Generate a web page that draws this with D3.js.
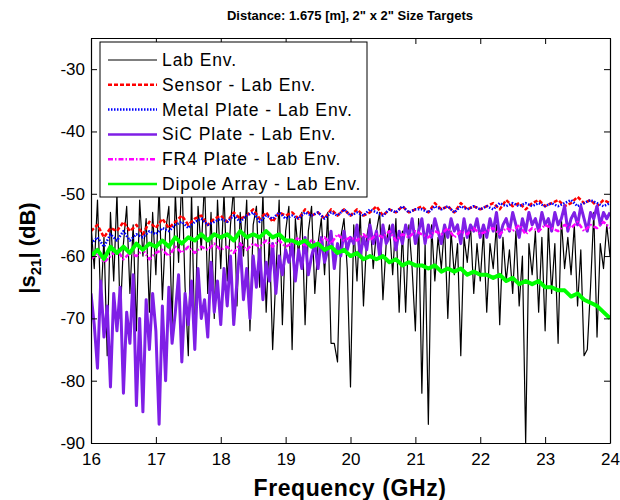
<!DOCTYPE html>
<html>
<head>
<meta charset="utf-8">
<script src="https://cdn.jsdelivr.net/npm/d3@7"></script>
<style>
body{margin:0;background:#fff;}
text{font-family:"Liberation Sans",Arial,sans-serif;}
</style>
</head>
<body>
<svg id="chart" width="620" height="500"></svg>
<script>

// frequency grids (GHz)
var freqFine = d3.range(161).map(function(i){ return 16 + i*0.05; });
var freqCoarse = d3.range(81).map(function(i){ return 16 + i*0.1; });

var xTicks = [16,17,18,19,20,21,22,23,24];
var yTicks = [-90,-80,-70,-60,-50,-40,-30];

// |s21| in dB
var labEnv = [
	-55,-62,-51,-68,-57,-76,-53,-64,-50,-70,-58,-52,-66,-55,-72,-51,-60,-54,-69,-53,-63,
	-49,-67,-56,-52,-71,-50,-61,-47,-65,-76,-50,-74,-52,-59,-48,-66,-53,-70,-51,-62,
	-50,-64,-55,-49,-68,-53,-60,-51,-72,-55,-52,-65,-50,-69,-57,-75,-63,-51,-71,-56,
	-52,-75,-54,-60,-53,-71,-56,-52,-66,-58,-54,-63,-53,-74,-74,-77,-57,-54,-62,-81,
	-55,-64,-53,-68,-57,-54,-62,-56,-53,-67,-58,-55,-63,-54,-69,-56,-69,-55,-62,-72,
	-54,-82,-58,-87,-55,-64,-57,-62,-55,-70,-56,-63,-58,-76,-57,-61,-55,-66,-58,-64,
	-56,-69,-58,-62,-55,-71,-57,-64,-59,-66,-56,-68,-60,-90,-58,-63,-56,-69,-57,-72,
	-55,-66,-58,-74,-54,-62,-57,-63,-55,-68,-59,-76,-75,-65,-53,-73,-58,-62,-55,-60
];
var sicPlate = [
	-66,-71,-78,-64,-73,-68,-81,-66,-72,-65,-82,-69,-74,-63,-84,-70,-85,-67,-75,-66,-72,
	-87,-68,-80,-65,-74,-69,-63,-77,-66,-71,-64,-75,-62,-70,-67,-73,-61,-69,-64,-71,
	-62,-68,-60,-71,-64,-58,-67,-62,-70,-60,-65,-59,-67,-61,-64,-58,-66,-60,-63,-59,
	-61,-58,-64,-59,-62,-57,-63,-60,-58,-62,-57,-61,-59,-56,-62,-58,-60,-56,-59,-57,
	-58,-55,-60,-57,-59,-55,-58,-56,-60,-55,-58,-57,-55,-59,-56,-58,-55,-57,-54,-58,
	-56,-54,-58,-55,-57,-54,-56,-58,-55,-57,-54,-56,-55,-58,-54,-57,-55,-56,-54,-57,
	-55,-57,-54,-56,-53,-57,-55,-54,-56,-53,-55,-57,-54,-56,-53,-55,-54,-56,-53,-55,
	-54,-56,-53,-55,-54,-52,-56,-54,-53,-55,-52,-54,-56,-53,-54,-52,-55,-53,-54,-53
];
var sensor = [
	-56,-55,-57,-55.5,-56,-54.5,-56,-55,-56.5,-54.5,-55.5,
	-54,-55.5,-54.5,-53.5,-55,-54,-53.5,-55,-54,-53.5,
	-54.5,-53,-54,-53.5,-52.5,-54,-53,-54.5,-53,-53.5,
	-53,-54,-52.5,-53.5,-53,-54,-52.5,-53.5,-52.5,-53.5,
	-52.5,-53.5,-53,-52,-53.5,-52.5,-53,-52,-53,-52.5,
	-52,-53,-51.5,-52.5,-52,-53,-51.5,-52.5,-52,-52.5,
	-52,-51.5,-52.5,-51,-52,-51.5,-52.5,-51.5,-51,-52,
	-51.5,-51,-52,-51.5,-50.5,-51.5,-51,-52,-51,-51.5
];
var metalPlate = [
	-58,-57,-58.5,-56.5,-57.5,-56,-57.5,-56.5,-57,-56,-56.5,
	-55.5,-56,-55,-54.5,-55.5,-54.5,-54,-55,-54.5,-54,
	-54.5,-53.5,-54.5,-53.5,-53,-54.5,-53.5,-54,-53,-54,
	-53.5,-54,-53,-53.5,-53,-54,-53,-53.5,-52.5,-53.5,
	-53,-53.5,-52.5,-53,-53.5,-52.5,-53,-52,-53,-52.5,
	-52.5,-53,-52,-52.5,-52,-53,-52,-52.5,-52,-52.5,
	-52,-52.5,-51.5,-52,-51.5,-52,-51.5,-52,-51.5,-52,
	-51.5,-52,-51.5,-51,-52,-51.5,-51,-51.5,-52,-51.5
];
var fr4Plate = [
	-60.5,-59.5,-61,-60,-59,-60.5,-59.5,-60,-59,-60.5,-59.5,
	-59,-60,-58.5,-59.5,-58.5,-59.5,-58.5,-59,-58,-59,
	-58.5,-59.5,-58,-59,-58,-58.5,-57.5,-58.5,-57.5,-58.5,
	-58,-57,-58.5,-57.5,-58,-57,-58,-56.5,-57.5,-57,
	-57.5,-56.5,-57.5,-56.5,-57,-56,-57.5,-56.5,-57,-56,
	-56.5,-57,-56,-56.5,-55.5,-57,-56,-56.5,-55.5,-56.5,
	-56,-55.5,-56.5,-55.5,-56,-55,-56.5,-55.5,-56,-55,
	-55.5,-56,-55,-55.5,-54.5,-56,-55,-55.5,-54.5,-55.5
];
var dipoleArray = [
	-60,-59,-60.5,-58.5,-59.5,-58.5,-59.5,-58,-59,-58,-58.5,
	-57.5,-58.5,-57,-58,-57,-57.5,-56.5,-57.5,-56.5,-57,
	-56.5,-57.5,-56,-57,-56.5,-57,-56,-57,-56.5,-57.5,
	-57.5,-58,-57.5,-58.5,-58,-59,-58.5,-59.5,-59,-60,
	-59.5,-60.5,-60,-60.5,-60,-61,-60.5,-61.5,-61,-61.5,
	-61.5,-62,-61.5,-62.5,-62,-62.5,-62,-63,-62.5,-63,
	-63,-63.5,-63,-64,-63.5,-64.5,-64,-64.5,-64,-65,
	-65,-65.5,-65.5,-66.5,-66,-67,-67.5,-68,-69,-70
];

var seriesNames = ["Lab Env.", "Sensor - Lab Env.", "Metal Plate - Lab Env.",
	"SiC Plate - Lab Env.", "FR4 Plate - Lab Env.", "Dipole Array - Lab Env."];

var series = [
	{name: seriesNames[0], freq: freqFine, values: labEnv, color: "#000000", width: 1.2, dash: null},
	{name: seriesNames[1], freq: freqCoarse, values: sensor, color: "#ff0000", width: 2.5, dash: "4,2"},
	{name: seriesNames[2], freq: freqCoarse, values: metalPlate, color: "#0000ff", width: 2.5, dash: "1.5,1.5"},
	{name: seriesNames[3], freq: freqFine, values: sicPlate, color: "#7f1fe6", width: 3, dash: null},
	{name: seriesNames[4], freq: freqCoarse, values: fr4Plate, color: "#ff00ff", width: 2.5, dash: "5,2,1.5,2"},
	{name: seriesNames[5], freq: freqCoarse, values: dipoleArray, color: "#00ff00", width: 4, dash: null}
];

var svg = d3.select("#chart");
var plotLeft = 91, plotRight = 610, plotTop = 38, plotBottom = 443;

var x = d3.scaleLinear().domain([16,24]).range([plotLeft,plotRight]);
var y = d3.scaleLinear().domain([-90,-25]).range([plotBottom,plotTop]);

svg.append("rect")
.attr("width", 620).attr("height", 500).attr("fill", "#fff");

svg.append("clipPath").attr("id", "plot-clip")
.append("rect")
.attr("x", plotLeft).attr("y", plotTop)
.attr("width", plotRight-plotLeft).attr("height", plotBottom-plotTop);

var line = d3.line()
.x(function(d){ return x(d[0]); })
.y(function(d){ return y(d[1]); });

svg.append("g")
.attr("clip-path", "url(#plot-clip)")
.selectAll("path")
.data(series)
.enter().append("path")
.attr("fill", "none")
.attr("stroke", function(d){ return d.color; })
.attr("stroke-width", function(d){ return d.width; })
.attr("stroke-dasharray", function(d){ return d.dash; })
.attr("stroke-linejoin", "round")
.attr("d", function(d){
	return line(d.values.map(function(v, i){ return [d.freq[i], v]; }));
});

// axes, ticks pointing inward on all four sides
function styleAxis(g){
	g.select(".domain").attr("stroke", "#000").attr("stroke-width", 1.2);
	g.selectAll(".tick line").attr("stroke", "#000");
	g.selectAll("text")
	.attr("font-family", "'Liberation Sans', Arial, sans-serif")
	.attr("font-size", 17)
	.attr("fill", "#000");
}

// plain hyphen for negative labels, as in the original
function plainLabel(d){ return String(d); }

svg.append("g")
.attr("transform", "translate(0," + plotBottom + ")")
.call(d3.axisBottom(x).tickValues(xTicks).tickFormat(plainLabel)
	.tickSizeInner(-6).tickSizeOuter(0).tickPadding(10))
.call(styleAxis);

svg.append("g")
.attr("transform", "translate(0," + plotTop + ")")
.call(d3.axisTop(x).tickValues(xTicks).tickFormat("")
	.tickSizeInner(-6).tickSizeOuter(0))
.call(styleAxis);

svg.append("g")
.attr("transform", "translate(" + plotLeft + ",0)")
.call(d3.axisLeft(y).tickValues(yTicks).tickFormat(plainLabel)
	.tickSizeInner(-6).tickSizeOuter(0).tickPadding(6))
.call(styleAxis);

svg.append("g")
.attr("transform", "translate(" + plotRight + ",0)")
.call(d3.axisRight(y).tickValues(yTicks).tickFormat("")
	.tickSizeInner(-6).tickSizeOuter(0))
.call(styleAxis);

// legend
var legend = svg.append("g").attr("transform", "translate(100,42)");

legend.append("rect")
.attr("width", 267).attr("height", 155)
.attr("fill", "#fff").attr("stroke", "#000").attr("stroke-width", 1);

var items = legend.selectAll(".item")
.data(series)
.enter().append("g")
.attr("class", "item")
.attr("transform", function(d, i){ return "translate(0," + (18 + i*24.8) + ")"; });

items.append("line")
.attr("x1", 8).attr("x2", 57)
.attr("stroke", function(d){ return d.color; })
.attr("stroke-width", function(d){ return Math.min(d.width, 2.5); })
.attr("stroke-dasharray", function(d){ return d.dash; });

items.append("text")
.attr("x", 62).attr("y", 6)
.attr("font-size", 17.5)
.attr("letter-spacing", 0.9)
.text(function(d){ return d.name; });

// titles
svg.append("text")
.attr("x", 350).attr("y", 20)
.attr("text-anchor", "middle")
.attr("font-size", 13).attr("font-weight", "bold")
.text("Distance: 1.675 [m], 2\" x 2\" Size Targets");

svg.append("text")
.attr("x", 350).attr("y", 496)
.attr("text-anchor", "middle")
.attr("font-size", 23).attr("font-weight", "bold")
.attr("letter-spacing", 0.6)
.text("Frequency (GHz)");

var ylab = svg.append("text")
.attr("transform", "translate(35,248) rotate(-90)")
.attr("text-anchor", "middle")
.attr("font-size", 22).attr("font-weight", "bold");
ylab.append("tspan").text("|s");
ylab.append("tspan").attr("font-size", 15).attr("dy", 6).text("21");
ylab.append("tspan").attr("dy", -6).text("| (dB)");

</script>
</body>
</html>
